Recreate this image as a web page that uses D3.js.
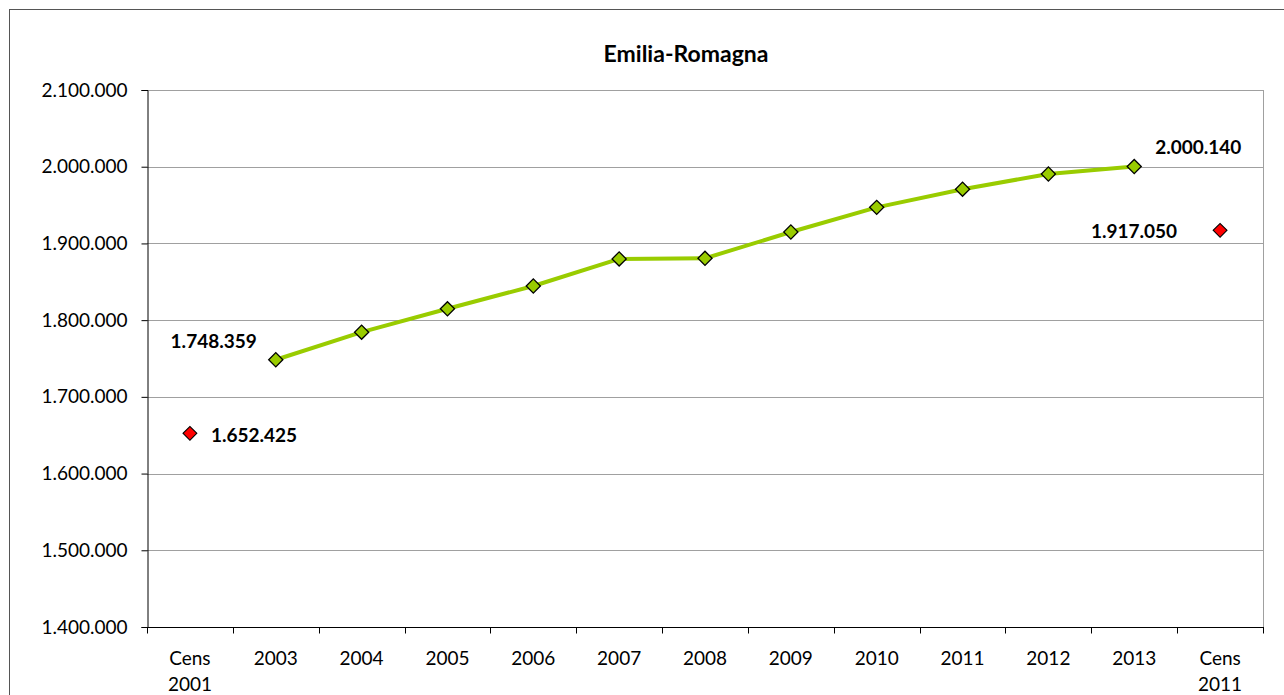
<!DOCTYPE html>
<html>
<head>
<meta charset="utf-8">
<script src="https://cdn.jsdelivr.net/npm/d3@7"></script>
<style>
  html, body { margin: 0; padding: 0; background: #fff; }
  svg { display: block; font-family: Lato, "Open Sans", sans-serif; }
</style>
</head>
<body>
<svg id="chart" width="1284" height="695"></svg>
<script>
const title = "Emilia-Romagna";
const categories = ["Cens 2001","2003","2004","2005","2006","2007","2008","2009","2010","2011","2012","2013","Cens 2011"];
const annualCats = ["2003","2004","2005","2006","2007","2008","2009","2010","2011","2012","2013"];
const annualValues = [1748359, 1784300, 1814800, 1844500, 1879800, 1880600, 1914900, 1947000, 1970700, 1990500, 2000140];
const censusCats = ["Cens 2001","Cens 2011"];
const censusValues = [1652425, 1917050];
const yTicks = [1400000,1500000,1600000,1700000,1800000,1900000,2000000,2100000];

(function () {
const svg = d3.select("#chart");
const pL = 147, pR = 1263, pT = 90, pB = 627;
const FS = 19;

// outer border
svg.append("rect").attr("x", 9.5).attr("y", 9.5).attr("width", 1300).attr("height", 720)
  .attr("fill", "none").attr("stroke", "#555").attr("stroke-width", 1);

const x = d3.scaleBand().domain(categories).range([pL, pR]);
const y = d3.scaleLinear().domain([1400000, 2100000]).range([pB, pT]);
const fmt = v => d3.format(",")(v).replace(/,/g, ".");

// title
svg.append("text").attr("x", 686).attr("y", 53).attr("text-anchor", "middle")
  .attr("dominant-baseline", "central").attr("font-weight", "bold").attr("font-size", 23)
  .text(title);

// gridlines
svg.append("g").selectAll("line").data(yTicks.filter(d => d > 1400000)).join("line")
  .attr("x1", pL).attr("x2", pR)
  .attr("y1", d => Math.round(y(d)) + 0.5).attr("y2", d => Math.round(y(d)) + 0.5)
  .attr("stroke", "#a0a0a0").attr("stroke-width", 1);

// right border of plot area
svg.append("line").attr("x1", pR + 0.5).attr("x2", pR + 0.5).attr("y1", pT).attr("y2", pB)
  .attr("stroke", "#a0a0a0");

// y axis
const yAxis = svg.append("g").attr("transform", `translate(${pL + 0.5},0)`)
  .call(d3.axisLeft(y).tickValues(yTicks).tickFormat(fmt).tickSize(6).tickPadding(14));
yAxis.select(".domain").attr("stroke", "#000");
yAxis.selectAll(".tick line").attr("stroke", "#000");
yAxis.selectAll("text").attr("font-size", FS).attr("fill", "#000").attr("font-family", "Lato, sans-serif");

// x axis
const xg = svg.append("g").attr("transform", `translate(0,${pB + 0.5})`);
xg.append("line").attr("x1", pL).attr("x2", pR + 1).attr("y1", 0).attr("y2", 0).attr("stroke", "#000");
const bounds = categories.map(c => x(c)).concat([pR]);
xg.selectAll("line.tk").data(bounds).join("line").attr("class", "tk")
  .attr("x1", d => Math.round(d) + 0.5).attr("x2", d => Math.round(d) + 0.5)
  .attr("y1", 0).attr("y2", 6).attr("stroke", "#000");
categories.forEach(c => {
  const cxx = x(c) + x.bandwidth() / 2;
  const parts = c.split(" ");
  const t = xg.append("text").attr("text-anchor", "middle").attr("font-size", FS).attr("fill", "#000");
  if (parts.length === 1) {
    t.append("tspan").attr("x", cxx).attr("y", 30).attr("dominant-baseline", "central").text(c);
  } else {
    t.append("tspan").attr("x", cxx).attr("y", 30).attr("dominant-baseline", "central").text(parts[0]);
    t.append("tspan").attr("x", cxx).attr("y", 56).attr("dominant-baseline", "central").text(parts[1]);
  }
});

const cx = c => x(c) + x.bandwidth() / 2;

// line
const annual = annualCats.map((c, i) => ({c, v: annualValues[i]}));
svg.append("path").datum(annual)
  .attr("d", d3.line().x(d => cx(d.c)).y(d => y(d.v)))
  .attr("fill", "none").attr("stroke", "#99cc00").attr("stroke-width", 4).attr("stroke-linejoin", "round");

const diamond = d3.symbol().type(d3.symbolSquare).size(100);
svg.append("g").selectAll("path").data(annual).join("path")
  .attr("d", diamond)
  .attr("transform", d => `translate(${cx(d.c)},${y(d.v)}) rotate(45)`)
  .attr("fill", "#99cc00").attr("stroke", "#000").attr("stroke-width", 1.3);

const census = censusCats.map((c, i) => ({c, v: censusValues[i]}));
svg.append("g").selectAll("path").data(census).join("path")
  .attr("d", d3.symbol().type(d3.symbolSquare).size(95))
  .attr("transform", d => `translate(${cx(d.c)},${y(d.v)}) rotate(45)`)
  .attr("fill", "#ff0000").attr("stroke", "#000").attr("stroke-width", 1.1);

// data labels
const lab = (px, py, anchor, text) => svg.append("text").attr("x", px).attr("y", py)
  .attr("text-anchor", anchor).attr("dominant-baseline", "central")
  .attr("font-weight", "bold").attr("font-size", FS).attr("fill", "#000").text(text);

lab(cx("2003") - 19, y(annualValues[0]) - 19, "end", fmt(annualValues[0]));
lab(cx("2013") + 21, y(annualValues[annualValues.length - 1]) - 20, "start", fmt(annualValues[annualValues.length - 1]));
lab(cx("Cens 2001") + 21, y(censusValues[0]) + 1, "start", fmt(censusValues[0]));
lab(cx("Cens 2011") - 43, y(censusValues[1]) + 0.5, "end", fmt(censusValues[1]));
})();
</script>
</body>
</html>
